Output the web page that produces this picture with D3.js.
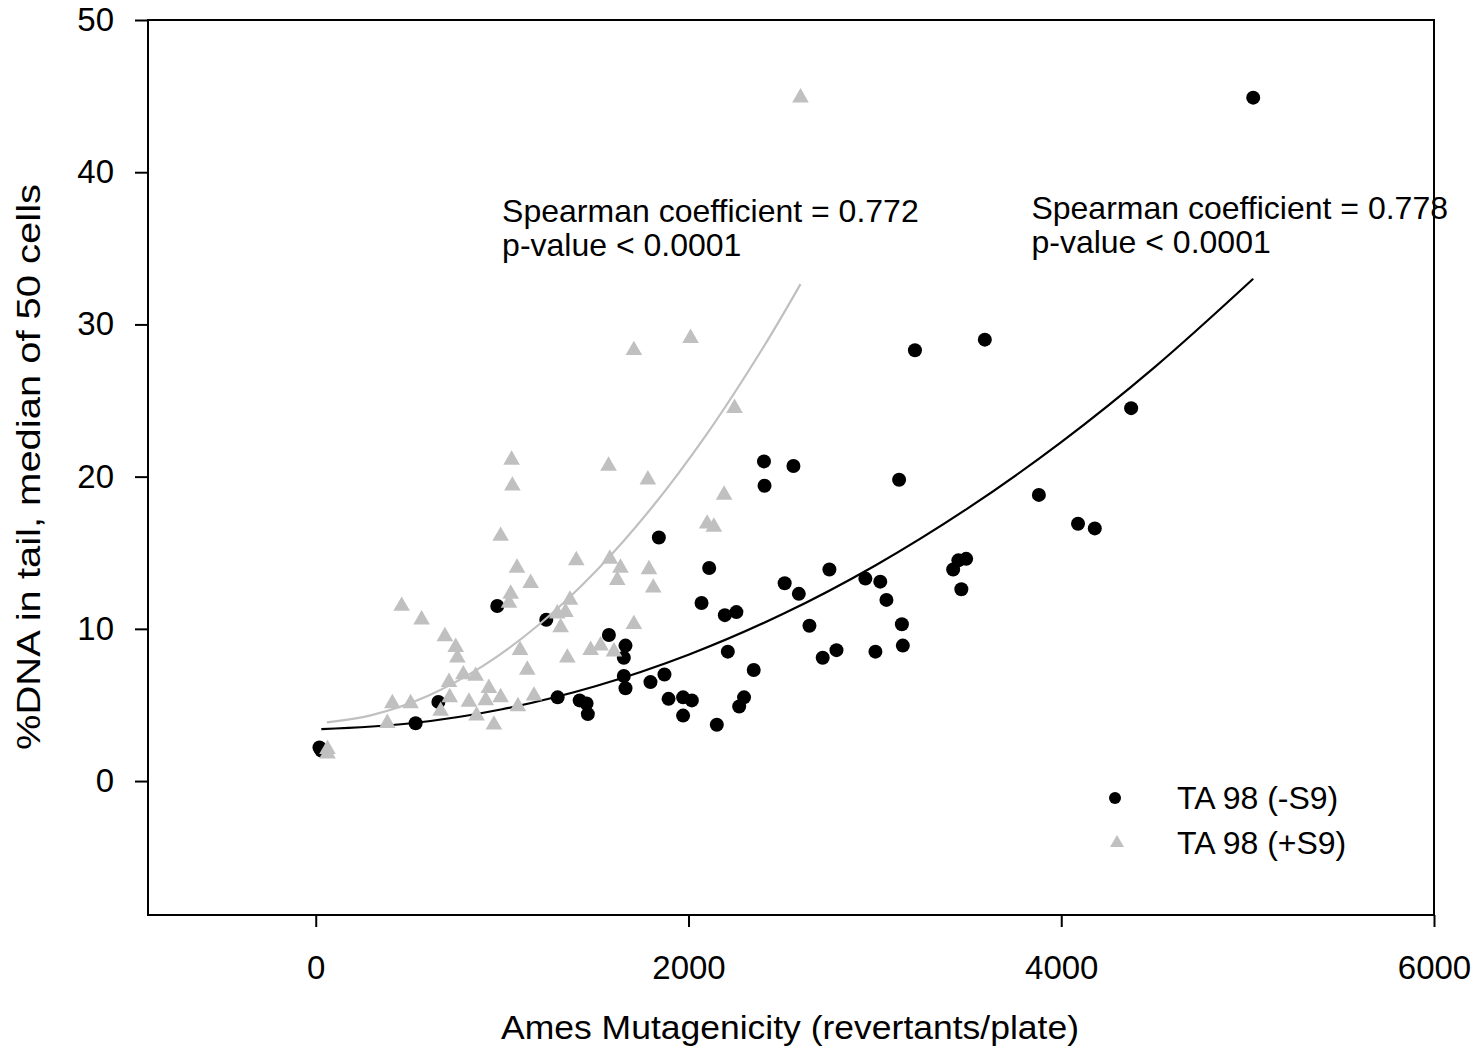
<!DOCTYPE html>
<html>
<head>
<meta charset="utf-8">
<script src="https://cdn.jsdelivr.net/npm/d3@7"></script>
<style>
  html, body { margin: 0; padding: 0; background: #fff; }
  text { font-family: "Liberation Sans", Arial, sans-serif; }
</style>
</head>
<body>
<svg id="chart" width="1480" height="1053"></svg>
<script>
// ---- data ----
const xTicks = [0, 2000, 4000, 6000];
const yTicks = [0, 10, 20, 30, 40, 50];

// TA 98 (-S9): black circles
const minusS9X = [5030, 3215, 3590, 4375, 3130, 2405, 2563, 2408, 3880, 4090, 4180, 1841, 2111, 2756, 2516, 2592,
  2949, 3029, 3062, 3420, 3448, 3490, 3464, 3145, 3150, 3003, 2794, 2720, 2649, 2070, 2195, 2257, 2211, 2350,
  2298, 2272, 2152, 1971, 1971, 2018, 1893, 1871, 1796, 1662, 1653, 1653, 1662, 1573, 1460, 1416, 1453, 1298,
  1237, 974, 658, 536, 20, 30];
const minusS9Y = [44.9, 28.3, 29.0, 24.5, 19.8, 21.0, 20.7, 19.4, 18.8, 16.9, 16.6, 16.0, 14.0, 13.9, 13.0, 12.3,
  13.3, 13.1, 11.9, 13.9, 14.5, 14.6, 12.6, 10.3, 8.9, 8.5, 8.6, 8.1, 10.2, 11.7, 10.9, 11.1, 8.5, 7.3,
  5.5, 4.9, 3.7, 4.3, 5.5, 5.3, 5.4, 7.0, 6.5, 8.9, 8.1, 6.9, 6.1, 9.6, 4.4, 5.3, 5.1, 5.5,
  10.6, 11.5, 5.2, 3.8, 2.2, 2.0];

// TA 98 (+S9): grey triangles
const plusS9X = [2601, 2011, 1707, 2247, 1051, 1055, 1571, 1782, 2191, 2100, 2136, 992, 1080, 1153, 1046, 1037,
  1398, 1578, 1635, 1618, 1788, 1811, 1364, 1296, 1340, 1314, 1707, 1096, 1135, 1350, 1475, 1528, 1600,
  929, 992, 912, 1171, 1085, 956, 461, 568, 693, 751, 760, 792, 858, 715, 719, 822, 670, 863, 411, 509, 384, 63, 63];
const plusS9Y = [44.9, 29.1, 28.3, 24.5, 21.1, 19.4, 20.7, 19.8, 18.8, 16.9, 16.7, 16.1, 14.0, 13.0, 12.3, 11.7,
  14.5, 14.6, 14.0, 13.2, 13.9, 12.7, 11.9, 11.0, 11.1, 10.1, 10.3, 8.6, 7.3, 8.1, 8.6, 8.9, 8.5,
  6.1, 5.5, 5.3, 5.6, 4.9, 3.7, 11.5, 10.6, 9.5, 8.8, 8.1, 7.0, 6.9, 6.5, 5.5, 5.2, 4.6, 4.3, 5.1, 5.1, 3.8, 2.1, 1.8];

// fitted curves
const fitMinusX = [30, 500, 1000, 1500, 2000, 2500, 3000, 3500, 4000, 4500, 5030];
const fitMinusY = [3.41, 3.78, 4.72, 6.23, 8.30, 10.94, 14.15, 17.93, 22.27, 27.18, 33.0];
const fitPlusX = [60, 300, 600, 900, 1200, 1500, 1800, 2100, 2400, 2601];
const fitPlusY = [3.85, 4.33, 5.59, 7.58, 10.30, 13.75, 17.92, 22.83, 28.47, 32.65];

const seriesNames = ["TA 98 (-S9)", "TA 98 (+S9)"];
const annotations = [
  { x: 1000, y: 36.7, lines: ["Spearman coefficient = 0.772", "p-value < 0.0001"] },
  { x: 3840, y: 36.9, lines: ["Spearman coefficient = 0.778", "p-value < 0.0001"] }
];
const xTitle = "Ames Mutagenicity (revertants/plate)";
const yTitle = "%DNA in tail, median of 50 cells";

// ---- drawing ----
const GREY = "#c0c0c0";
const svg = d3.select("#chart");
const x = d3.scaleLinear().domain([-900, 6000]).range([148, 1434]);
const y = d3.scaleLinear().domain([-8.8, 50]).range([915, 20]);

// frame
svg.append("rect").attr("x", 148).attr("y", 20).attr("width", 1434 - 148).attr("height", 915 - 20)
  .attr("fill", "none").attr("stroke", "#000").attr("stroke-width", 2);

const yAxis = svg.append("g").attr("transform", "translate(148,0)")
  .call(d3.axisLeft(y).tickValues(yTicks).tickSize(13).tickPadding(21).tickFormat(d3.format("d")));
const xAxis = svg.append("g").attr("transform", "translate(0,915)")
  .call(d3.axisBottom(x).tickValues(xTicks).tickSize(12).tickPadding(29).tickFormat(d3.format("d")));
[xAxis, yAxis].forEach(g => {
  g.select(".domain").remove();
  g.selectAll(".tick line").attr("stroke", "#000").attr("stroke-width", 2);
  g.selectAll(".tick text").attr("font-size", 33).attr("fill", "#000")
    .style("font-family", '"Liberation Sans", Arial, sans-serif');
});

// axis titles
svg.append("text").attr("x", 790).attr("y", 1039).attr("text-anchor", "middle")
  .attr("font-size", 33).attr("textLength", 578).attr("lengthAdjust", "spacingAndGlyphs").text(xTitle);
svg.append("text").attr("transform", "translate(40,467) rotate(-90)").attr("text-anchor", "middle")
  .attr("font-size", 33).attr("textLength", 566).attr("lengthAdjust", "spacingAndGlyphs").text(yTitle);

// points: black circles
const minusPts = minusS9X.map((v, i) => [v, minusS9Y[i]]);
const plusPts = plusS9X.map((v, i) => [v, plusS9Y[i]]);

svg.append("g").selectAll("circle").data(minusPts).join("circle")
  .attr("cx", d => x(d[0])).attr("cy", d => y(d[1])).attr("r", 7).attr("fill", "#000");

const line = d3.line().x(d => x(d[0])).y(d => y(d[1])).curve(d3.curveCatmullRom);
svg.append("path").datum(fitMinusX.map((v, i) => [v, fitMinusY[i]]))
  .attr("d", line).attr("fill", "none").attr("stroke", "#000").attr("stroke-width", 2.2);

const tri = d3.symbol().type(d3.symbolTriangle).size(120);
svg.append("g").selectAll("path").data(plusPts).join("path")
  .attr("transform", d => `translate(${x(d[0])},${y(d[1])})`).attr("d", tri).attr("fill", GREY);

svg.append("path").datum(fitPlusX.map((v, i) => [v, fitPlusY[i]]))
  .attr("d", line).attr("fill", "none").attr("stroke", GREY).attr("stroke-width", 2.2);

// annotations
annotations.forEach(a => {
  const t = svg.append("text").attr("x", x(a.x)).attr("y", y(a.y)).attr("font-size", 32).attr("fill", "#000");
  a.lines.forEach((l, i) => t.append("tspan").attr("x", x(a.x)).attr("dy", i === 0 ? 0 : 34).text(l));
});

// legend
const lg = svg.append("g");
lg.append("circle").attr("cx", 1115).attr("cy", 798).attr("r", 6).attr("fill", "#000");
lg.append("path").attr("transform", "translate(1117,843)").attr("d", d3.symbol().type(d3.symbolTriangle).size(85)).attr("fill", GREY);
lg.append("text").attr("x", 1177).attr("y", 809).attr("font-size", 32).text(seriesNames[0]);
lg.append("text").attr("x", 1177).attr("y", 854).attr("font-size", 32).text(seriesNames[1]);
</script>
</body>
</html>
